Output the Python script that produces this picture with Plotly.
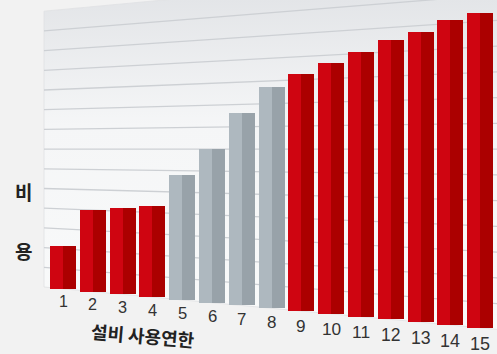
import plotly.graph_objects as go

# ---- data ----
years = list(range(1, 16))
tick_labels = [str(y) for y in years]
costs = [2.15, 4.03, 4.16, 4.31, 5.80, 6.99, 8.60, 9.72, 10.23, 10.65, 11.05, 11.47, 11.72, 12.12, 12.34]
is_gray = [False]*4 + [True]*4 + [False]*7
x_title = "설비 사용연한"
y_title = ["비", "용"]
n_grid = 14

# ---- perspective projection (style) ----
C0 = 0.3624          # left edge of the back wall, in category units
TILT = 0.14144       # baseline drop per category
GROW = 0.02021       # scale growth per category

def base_y(c):
    return -(c - C0) * TILT

def scale(c):
    return 1 + (c - C0) * GROW

def project(c, v):
    return base_y(c) + v * scale(c)

W, H = 497, 354
XRANGE = [1 - 63 / 29.8, 1 + 434 / 29.8]
YRANGE = [(287 - 354) / 19.7, 287 / 19.7]
fig = go.Figure()

XR = 16.5
# back wall
wall_x = [C0, C0, XR, XR, C0]
wall_y = [project(C0, 0), project(C0, n_grid), project(XR, n_grid), project(XR, 0), project(C0, 0)]
fig.add_trace(go.Scatter(
    x=wall_x, y=wall_y, mode="lines", fill="toself",
    line=dict(width=0.8, color="#dfe1e3"),
    fillgradient=dict(type="vertical", start=-2.0, stop=15.0,
                      colorscale=[[0, "#f9fafa"], [0.6, "#f5f6f7"], [1, "#e2e4e7"]]),
    hoverinfo="skip", showlegend=False))

# grid lines
gx, gy = [], []
for k in range(1, n_grid):
    gx += [C0, XR, None]
    gy += [project(C0, k), project(XR, k), None]
fig.add_trace(go.Scatter(x=gx, y=gy, mode="lines",
                         line=dict(color="#cdd0d4", width=1.3),
                         hoverinfo="skip", showlegend=False))

# bars (two shaded halves), on an overlaid axis pair so they sit above the wall
bases = [base_y(c) for c in years]
heights = [v * scale(c) for c, v in zip(years, costs)]
light = ["#aeb8bf" if g else "#cf0511" for g in is_gray]
dark = ["#98a2a9" if g else "#ab0000" for g in is_gray]
HW = 0.435
fig.add_trace(go.Bar(x=years, y=heights, base=bases, width=HW, offset=-HW,
                     marker=dict(color=light, line=dict(width=0)),
                     xaxis="x2", yaxis="y2", hoverinfo="skip", showlegend=False))
fig.add_trace(go.Bar(x=years, y=heights, base=bases, width=HW, offset=0,
                     marker=dict(color=dark, line=dict(width=0)),
                     xaxis="x2", yaxis="y2", hoverinfo="skip", showlegend=False))

# tick labels along the slanted baseline
for i, (c, lab) in enumerate(zip(years, tick_labels)):
    fig.add_annotation(x=c, y=project(c, -0.63), text=lab, showarrow=False,
                       xanchor="center", yanchor="middle",
                       font=dict(family="Liberation Sans", size=16 + 2.0 * i / 14, color="#333333"))

fig.add_annotation(xref="paper", yref="paper", x=143 / W, y=1 - 335 / H, text=f"<b>{x_title}</b>",
                   showarrow=False, textangle=5, xanchor="center", yanchor="middle",
                   font=dict(family="Noto Sans CJK KR", size=18, color="#222222"))
for ch, py in zip(y_title, [191, 250]):
    fig.add_annotation(xref="paper", yref="paper", x=23 / W, y=1 - py / H, text=f"<b>{ch}</b>",
                       showarrow=False, xanchor="center", yanchor="middle",
                       font=dict(family="Noto Sans CJK KR", size=19, color="#222222"))

fig.update_layout(
    width=W, height=H, margin=dict(l=0, r=0, t=0, b=0),
    paper_bgcolor="#f2f2f2", plot_bgcolor="#f2f2f2",
    barmode="overlay", bargap=0,
    xaxis=dict(range=XRANGE, visible=False, fixedrange=True),
    yaxis=dict(range=YRANGE, visible=False, fixedrange=True),
    xaxis2=dict(range=XRANGE, visible=False, fixedrange=True, overlaying="x"),
    yaxis2=dict(range=YRANGE, visible=False, fixedrange=True, overlaying="y"),
)
fig.write_html("out.html")
